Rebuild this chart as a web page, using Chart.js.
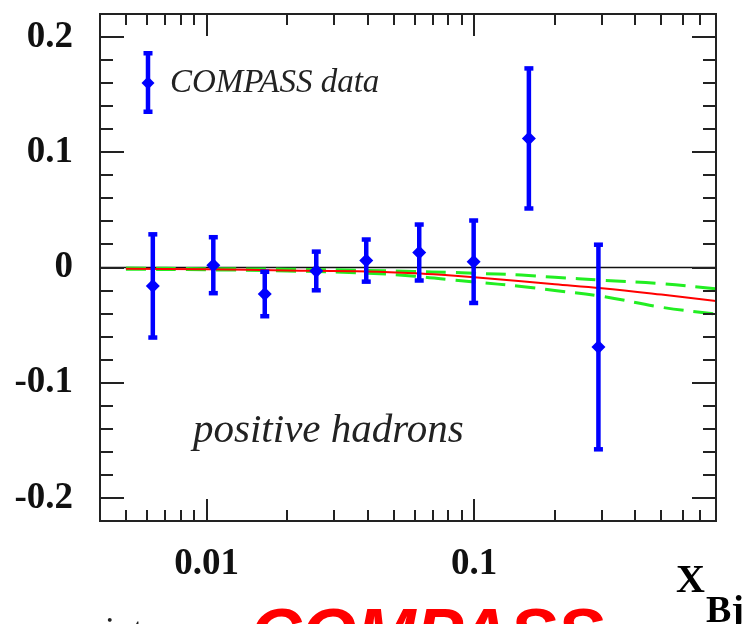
<!DOCTYPE html>
<html>
<head>
<meta charset="utf-8">
<script src="https://cdn.jsdelivr.net/npm/chart.js@4.4.1/dist/chart.umd.min.js"></script>
<style>
  html, body { margin: 0; padding: 0; background: #ffffff; }
  #wrap { width: 748px; height: 624px; overflow: hidden; position: relative; }
  canvas { display: block; }
</style>
</head>
<body>
<div id="wrap"><canvas id="c" width="748" height="624"></canvas></div>
<script>
// ---------------- data ----------------
const dataX   = [0.0063, 0.0106, 0.0165, 0.0257, 0.0395, 0.0623, 0.0995, 0.160, 0.291];
const dataY   = [-0.016, 0.002, -0.023, -0.003, 0.006, 0.013, 0.005, 0.112, -0.069];
const dataErr = [0.045, 0.0245, 0.0195, 0.017, 0.0185, 0.0245, 0.036, 0.061, 0.089];

const curveX     = [0.005, 0.01, 0.02, 0.04, 0.06, 0.08, 0.1, 0.15, 0.2, 0.3, 0.5, 0.8];
const curveRed   = [-0.001, -0.0015, -0.0025, -0.0035, -0.005, -0.0068, -0.0085, -0.012, -0.0145, -0.018, -0.0235, -0.029];
const curveUpper = [-0.0005, -0.001, -0.0015, -0.0025, -0.0035, -0.0042, -0.005, -0.0065, -0.0085, -0.011, -0.014, -0.0185];
const curveLower = [-0.0015, -0.002, -0.003, -0.005, -0.0075, -0.0105, -0.0125, -0.0165, -0.020, -0.025, -0.0345, -0.0405];

const xTickValues  = [0.005, 0.006, 0.007, 0.008, 0.009, 0.01, 0.02, 0.03, 0.04, 0.05, 0.06, 0.07, 0.08, 0.09, 0.1, 0.2, 0.3, 0.4, 0.5, 0.6, 0.7];
const xMajorValues = [0.01, 0.1];
const xTickLabels  = ['0.01', '0.1'];
const yTickValues  = [-0.2, -0.18, -0.16, -0.14, -0.12, -0.1, -0.08, -0.06, -0.04, -0.02, 0, 0.02, 0.04, 0.06, 0.08, 0.1, 0.12, 0.14, 0.16, 0.18, 0.2];
const yMajorValues = [-0.2, -0.1, 0, 0.1, 0.2];
const yTickLabels  = ['-0.2', '-0.1', '0', '0.1', '0.2'];

const legendLabel = 'COMPASS data';
const panelLabel  = 'positive hadrons';

// ---------------- helpers ----------------
const near = (a, b) => Math.abs(a - b) < 1e-9;
const BLUE = '#0000ff';
const FRAME = '#222222';

function drawErrBar(ctx, x, yTop, yBot) {
  ctx.save();
  ctx.strokeStyle = BLUE;
  ctx.fillStyle = BLUE;
  ctx.lineWidth = 4.5;
  ctx.beginPath();
  ctx.moveTo(x, yTop);
  ctx.lineTo(x, yBot);
  ctx.stroke();
  ctx.fillRect(x - 4.5, yTop - 2, 9, 4.5);
  ctx.fillRect(x - 4.5, yBot - 2.5, 9, 4.5);
  ctx.restore();
}

const framePlugin = {
  id: 'framePlugin',
  beforeDatasetsDraw(chart) {
    const {ctx, chartArea: a, scales: {y}} = chart;
    const y0 = y.getPixelForValue(0);
    ctx.save();
    ctx.strokeStyle = '#111';
    ctx.lineWidth = 1.5;
    ctx.beginPath();
    ctx.moveTo(a.left, y0);
    ctx.lineTo(a.right, y0);
    ctx.stroke();
    ctx.restore();
  },
  beforeDatasetDraw(chart, args) {
    if (args.index !== 0) return;
    const {ctx, chartArea: a, scales: {x, y}} = chart;
    ctx.save();
    ctx.beginPath();
    ctx.rect(a.left, a.top, a.right - a.left, a.bottom - a.top);
    ctx.clip();
    for (let i = 0; i < dataX.length; i++) {
      const px = x.getPixelForValue(dataX[i]);
      drawErrBar(ctx, px, y.getPixelForValue(dataY[i] + dataErr[i]), y.getPixelForValue(dataY[i] - dataErr[i]));
    }
    ctx.restore();
  },
  afterDraw(chart) {
    const {ctx, chartArea: a, scales: {x, y}} = chart;
    ctx.save();
    // frame
    ctx.strokeStyle = FRAME;
    ctx.lineWidth = 2;
    ctx.strokeRect(a.left, a.top, a.right - a.left, a.bottom - a.top);
    // x ticks (inward, bottom and top)
    ctx.beginPath();
    xTickValues.forEach(v => {
      const px = Math.round(x.getPixelForValue(v));
      const len = xMajorValues.some(m => near(m, v)) ? 22 : 11;
      ctx.moveTo(px, a.bottom); ctx.lineTo(px, a.bottom - len);
      ctx.moveTo(px, a.top); ctx.lineTo(px, a.top + len);
    });
    // y ticks (inward, left and right)
    yTickValues.forEach(v => {
      const py = Math.round(y.getPixelForValue(v));
      const len = yMajorValues.some(m => near(m, v)) ? 24 : 13;
      ctx.moveTo(a.left, py); ctx.lineTo(a.left + len, py);
      ctx.moveTo(a.right, py); ctx.lineTo(a.right - len, py);
    });
    ctx.stroke();

    // legend
    drawErrBar(ctx, 148, 53, 112);
    ctx.fillStyle = BLUE;
    ctx.beginPath();
    ctx.moveTo(148, 76.5); ctx.lineTo(154.5, 83); ctx.lineTo(148, 89.5); ctx.lineTo(141.5, 83);
    ctx.closePath(); ctx.fill();
    ctx.fillStyle = '#222';
    ctx.font = 'italic 33px "Liberation Serif"';
    ctx.textAlign = 'left';
    ctx.textBaseline = 'alphabetic';
    ctx.fillText(legendLabel, 170, 92);

    // panel label
    ctx.font = 'italic 41px "Liberation Serif"';
    ctx.fillText(panelLabel, 193, 442);

    // axis title X_Bj
    ctx.fillStyle = '#000';
    ctx.font = 'bold 40px "Liberation Serif"';
    ctx.fillText('X', 676, 592);
    ctx.font = 'bold 38px "Liberation Serif"';
    ctx.fillText('Bj', 706, 622);

    // partially visible slide texts at the bottom
    ctx.fillStyle = '#ff0000';
    ctx.font = 'italic bold 71px "Liberation Sans"';
    ctx.fillText('COMPASS', 250, 658);
    ctx.fillStyle = '#222';
    ctx.font = '36px "Liberation Serif"';
    ctx.fillText('int', 105, 642);
    ctx.restore();
  }
};

const tickFont = {family: 'Liberation Serif', size: 37, weight: 'bold'};

new Chart(document.getElementById('c'), {
  type: 'scatter',
  data: {
    datasets: [
      {
        label: legendLabel,
        data: dataX.map((v, i) => ({x: v, y: dataY[i]})),
        pointStyle: 'rectRot',
        pointRadius: 7,
        pointBackgroundColor: BLUE,
        pointBorderWidth: 0,
        showLine: false
      },
      {
        label: 'red',
        type: 'line',
        data: curveX.map((v, i) => ({x: v, y: curveRed[i]})),
        borderColor: '#ff0000',
        borderWidth: 2,
        pointRadius: 0,
        tension: 0.4,
        fill: false
      },
      {
        label: 'upper',
        type: 'line',
        data: curveX.map((v, i) => ({x: v, y: curveUpper[i]})),
        borderColor: '#22ee22',
        borderWidth: 3,
        borderDash: [20, 10],
        pointRadius: 0,
        tension: 0.4,
        fill: false
      },
      {
        label: 'lower',
        type: 'line',
        data: curveX.map((v, i) => ({x: v, y: curveLower[i]})),
        borderColor: '#22ee22',
        borderWidth: 3,
        borderDash: [20, 10],
        pointRadius: 0,
        tension: 0.4,
        fill: false
      }
    ]
  },
  options: {
    responsive: false,
    animation: false,
    devicePixelRatio: 1,
    layout: {padding: {top: 14, right: 32, left: 0, bottom: 0}},
    plugins: {legend: {display: false}, tooltip: {enabled: false}},
    scales: {
      x: {
        type: 'logarithmic',
        min: 0.004,
        max: 0.8,
        afterBuildTicks: s => { s.ticks = xTickValues.map(v => ({value: v})); },
        afterFit: s => { s.height = 103; s.paddingLeft = 0; s.paddingRight = 0; },
        grid: {display: false, drawTicks: false},
        border: {display: false},
        ticks: {
          autoSkip: false,
          maxRotation: 0,
          padding: 21,
          font: tickFont,
          color: '#111',
          callback: v => {
            const k = xMajorValues.findIndex(m => near(m, v));
            return k >= 0 ? xTickLabels[k] : '';
          }
        }
      },
      y: {
        type: 'linear',
        min: -0.22,
        max: 0.22,
        afterBuildTicks: s => { s.ticks = yTickValues.map(v => ({value: v})); },
        afterFit: s => { s.width = 100; s.paddingTop = 0; s.paddingBottom = 0; },
        grid: {display: false, drawTicks: false},
        border: {display: false},
        ticks: {
          autoSkip: false,
          padding: 27,
          font: tickFont,
          color: '#111',
          callback: v => {
            const k = yMajorValues.findIndex(m => near(m, v));
            return k >= 0 ? yTickLabels[k] : '';
          }
        }
      }
    }
  },
  plugins: [framePlugin]
});
</script>
</body>
</html>
